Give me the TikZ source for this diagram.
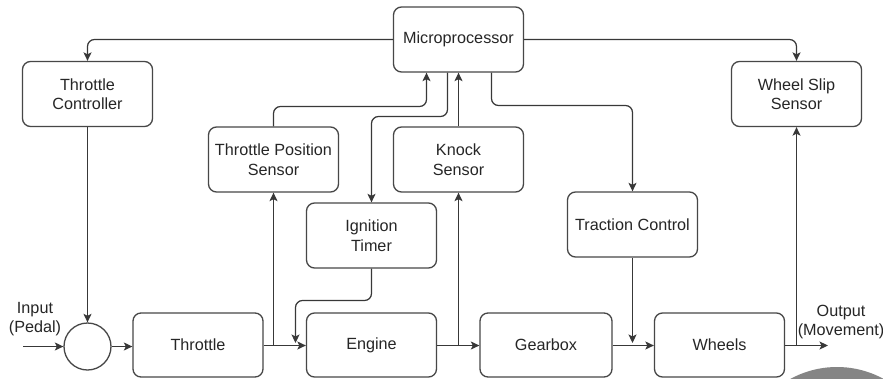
\documentclass[tikz,border=0pt]{standalone}
\usepackage{fontspec}
\setmainfont{Liberation Sans}
\usetikzlibrary{arrows.meta,calc}
\begin{document}
\begin{tikzpicture}[x=1pt,y=-1pt,
  box/.style={draw=black!72, line width=1.3pt, rounded corners=8pt, minimum width=130pt, minimum height=65pt, align=center, font=\fontsize{16.2}{19.5}\selectfont, text=black!85, inner sep=2pt},
  lbl/.style={align=center, font=\fontsize{16.2}{19.5}\selectfont, text=black!85, inner sep=0pt},
  arr/.style={draw=black!78, line width=1.25pt, rounded corners=7pt, -{Stealth[length=8.5pt,width=8pt,inset=2pt]}},
  ln/.style={draw=black!78, line width=1.25pt, rounded corners=7pt}]
\clip (0,0) rectangle (883,378);
\fill[white] (0,0) rectangle (883,378);

% nodes
\node[box] (micro) at (458.5,39.5) {Microprocessor};
\node[box] (tc) at (87.5,94) {Throttle\\Controller};
\node[box] (tps) at (273.5,159.5) {Throttle Position\\Sensor};
\node[box] (knock) at (458.5,159.5) {Knock\\Sensor};
\node[box] (wss) at (796.5,94) {Wheel Slip\\Sensor};
\node[box] (ign) at (371.5,235.5) {Ignition\\Timer};
\node[box] (trac) at (632.5,224.5) {Traction Control};
\node[draw=black!72, line width=1.3pt, circle, minimum size=47pt, inner sep=0pt] (sum) at (87.5,346.5) {};
\node[box, minimum height=64pt] (throttle) at (198,345) {Throttle};
\node[box, minimum height=64pt] (engine) at (371.5,345) {Engine};
\node[box, minimum height=64pt, minimum width=132pt] (gearbox) at (546,345) {Gearbox};
\node[box, minimum height=64pt] (wheels) at (719.5,345) {Wheels};

\node[lbl] (inlbl) at (35,319) {Input\\(Pedal)};
\node[lbl] (outlbl) at (841,322) {Output\\(Movement)};

% helper coordinates
\coordinate (in) at (23,346.5);
\coordinate (out) at (828,345.5);
\coordinate (j1) at (273.5,345.5);
\coordinate (j2) at (458.5,345.5);
\coordinate (j3) at (796.5,345.5);
\coordinate (x426) at (426.5,0);
\coordinate (x447) at (447.5,0);
\coordinate (x491) at (491.5,0);
\coordinate (y106) at (0,106.5);
\coordinate (y116) at (0,116.5);
\coordinate (y105) at (0,105.5);
\coordinate (y300) at (0,300.5);
\coordinate (ignin) at (295.5,343);
\coordinate (tracin) at (632.5,343);

% connectors
\draw[arr] (micro.west) -| (tc.north);
\draw[arr] (micro.east) -| (wss.north);
\draw[arr] (tc.south) -- (sum.north);
\draw[arr] (in) -- (sum.west);
\draw[arr] (sum.east) -- (throttle.west |- sum.east);
\draw[arr] (throttle.east |- j1) -- (engine.west |- j1);
\draw[arr] (j1) -- (tps.south);
\draw[arr] (tps.north) -- (tps.north |- y106) -| (micro.south -| x426);
\draw[arr] (knock.north) -- (micro.south);
\draw[arr] (micro.south -| x447) -- (x447 |- y116) -| (ign.north);
\draw[arr] (ign.south) -- (ign.south |- y300) -| (ignin);
\draw[arr] (engine.east |- j2) -- (gearbox.west |- j2);
\draw[arr] (j2) -- (knock.south);
\draw[arr] (micro.south -| x491) -- (x491 |- y105) -| (trac.north);
\draw[arr] (trac.south) -- (tracin);
\draw[arr] (gearbox.east |- j2) -- (wheels.west |- j2);
\draw[arr] (wheels.east |- out) -- (out);
\draw[arr] (j3) -- (wss.south);

% grey blob
\fill[black!48] (837,464) circle (97pt);
\end{tikzpicture}
\end{document}
